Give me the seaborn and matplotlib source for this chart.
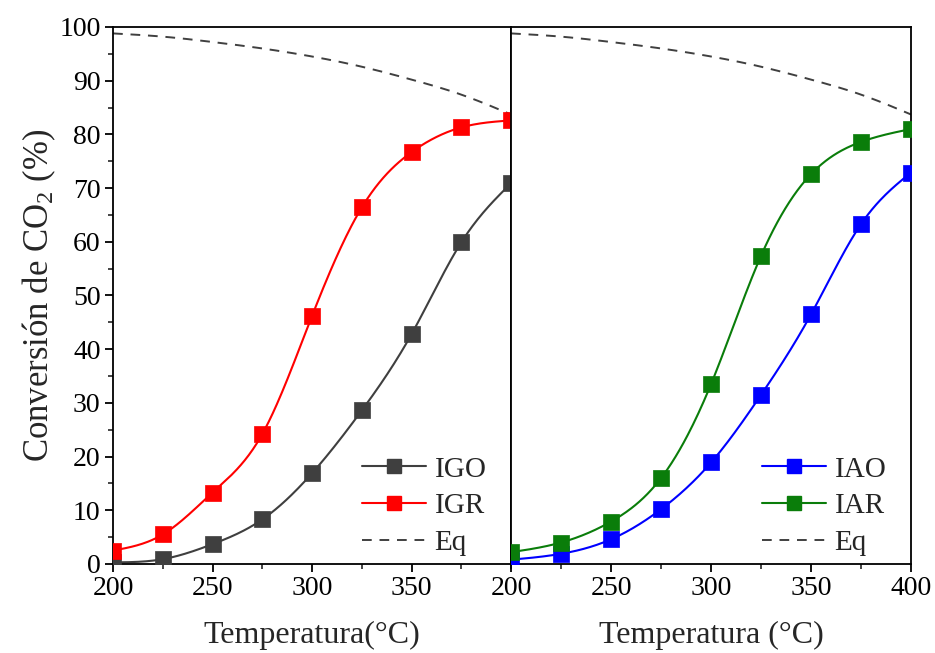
import numpy as np
import pandas as pd
import matplotlib
matplotlib.use("Agg")
import matplotlib.pyplot as plt
from matplotlib.lines import Line2D
from matplotlib.ticker import MultipleLocator
import seaborn as sns

# Reaction temperature (°C)
temperatura = [200, 225, 250, 275, 300, 325, 350, 375, 400]

# CO2 conversion (%) per catalyst
igo = [0.3, 0.9, 3.7, 8.3, 16.9, 28.6, 42.8, 59.9, 70.9]
igr = [2.5, 5.5, 13.3, 24.2, 46.2, 66.4, 76.7, 81.3, 82.6]
iao = [0.8, 1.9, 4.6, 10.2, 18.9, 31.5, 46.5, 63.3, 72.9]
iar = [2.2, 4.0, 7.9, 16.0, 33.5, 57.4, 72.6, 78.6, 81.0]

# Thermodynamic equilibrium conversion (%)
equilibrio = [98.8, 98.2, 97.2, 96.0, 94.5, 92.6, 90.2, 87.4, 83.7]

sns.set_theme(style="ticks")
plt.rcParams["font.family"] = ["Liberation Serif", "DejaVu Serif"]
plt.rcParams["mathtext.fontset"] = "custom"
plt.rcParams["mathtext.rm"] = "Liberation Serif"
plt.rcParams["mathtext.it"] = "Liberation Serif:italic"


def natural_spline(x, y, n=300):
    """Smooth curve through the measured points (natural cubic spline)."""
    x = np.asarray(x, float)
    y = np.asarray(y, float)
    m = len(x)
    h = np.diff(x)
    A = np.zeros((m, m))
    r = np.zeros(m)
    A[0, 0] = A[-1, -1] = 1.0
    for i in range(1, m - 1):
        A[i, i - 1] = h[i - 1]
        A[i, i] = 2 * (h[i - 1] + h[i])
        A[i, i + 1] = h[i]
        r[i] = 3 * ((y[i + 1] - y[i]) / h[i] - (y[i] - y[i - 1]) / h[i - 1])
    c = np.linalg.solve(A, r)
    b = (np.diff(y) / h) - h * (2 * c[:-1] + c[1:]) / 3
    d = np.diff(c) / (3 * h)
    xs = np.linspace(x[0], x[-1], n)
    idx = np.clip(np.searchsorted(x, xs, side="right") - 1, 0, m - 2)
    dx = xs - x[idx]
    ys = y[idx] + b[idx] * dx + c[idx] * dx ** 2 + d[idx] * dx ** 3
    return xs, ys


fig = plt.figure(figsize=(9.35, 6.53), dpi=100)
ax_l = fig.add_axes([0.1209, 0.1363, 0.4257, 0.8224])
ax_r = fig.add_axes([0.5466, 0.1363, 0.4278, 0.8224])

panels = [
    (ax_l, [("IGO", igo, "#3f3f3f"), ("IGR", igr, "#ff0000")]),
    (ax_r, [("IAO", iao, "#0000ff"), ("IAR", iar, "#0a7d0a")]),
]

eq_color = "#404040"
for ax, series in panels:
    xs, ys = natural_spline(temperatura, equilibrio)
    sns.lineplot(x=xs, y=ys, ax=ax, color=eq_color, lw=1.4,
                 linestyle=(0, (5, 4)), legend=False)
    handles = []
    for name, vals, col in series:
        xs, ys = natural_spline(temperatura, vals)
        sns.lineplot(x=xs, y=ys, ax=ax, color=col, lw=1.5, legend=False)
        df = pd.DataFrame({"T": temperatura, "X": vals})
        sns.scatterplot(data=df, x="T", y="X", ax=ax, marker="s", s=120,
                        color=col, edgecolor=col, linewidth=0.5, legend=False,
                        zorder=3)
        handles.append(Line2D([], [], color=col, lw=1.5, marker="s",
                              markersize=10, markeredgecolor=col, label=name))
    handles.append(Line2D([], [], color=eq_color, lw=1.4,
                          linestyle=(0, (5, 4)), label="Eq"))
    ax.legend(handles=handles, loc="lower right", frameon=False,
              fontsize=21, handlelength=2.2, handletextpad=0.3,
              labelspacing=0.35, bbox_to_anchor=(0.975, -0.012),
              borderaxespad=0.1)

    ax.set_xlim(200, 400)
    ax.set_ylim(0, 100)
    ax.xaxis.set_major_locator(MultipleLocator(50))
    ax.xaxis.set_minor_locator(MultipleLocator(25))
    ax.yaxis.set_major_locator(MultipleLocator(10))
    ax.yaxis.set_minor_locator(MultipleLocator(5))
    ax.tick_params(axis="both", which="major", direction="out", length=6,
                   width=1.3, labelsize=20, pad=3, colors="black")
    ax.tick_params(axis="both", which="minor", direction="out", length=3.5,
                   width=1.2)
    for sp in ax.spines.values():
        sp.set_visible(True)
        sp.set_linewidth(1.3)
        sp.set_color("black")

# Left panel: y axis, hide the 400 label (shared with the right panel's 200)
ax_l.set_xticks([200, 250, 300, 350])
ax_l.set_ylabel("Conversión de CO$_2$ (%)", fontsize=25, labelpad=1)
ax_l.set_xlabel("Temperatura(°C)", fontsize=23, labelpad=14)

ax_r.set_ylabel("")
ax_r.tick_params(axis="y", which="both", left=False, labelleft=False)
ax_r.set_xlabel("Temperatura (°C)", fontsize=23, labelpad=14)

fig.savefig("out.png", dpi=100)
